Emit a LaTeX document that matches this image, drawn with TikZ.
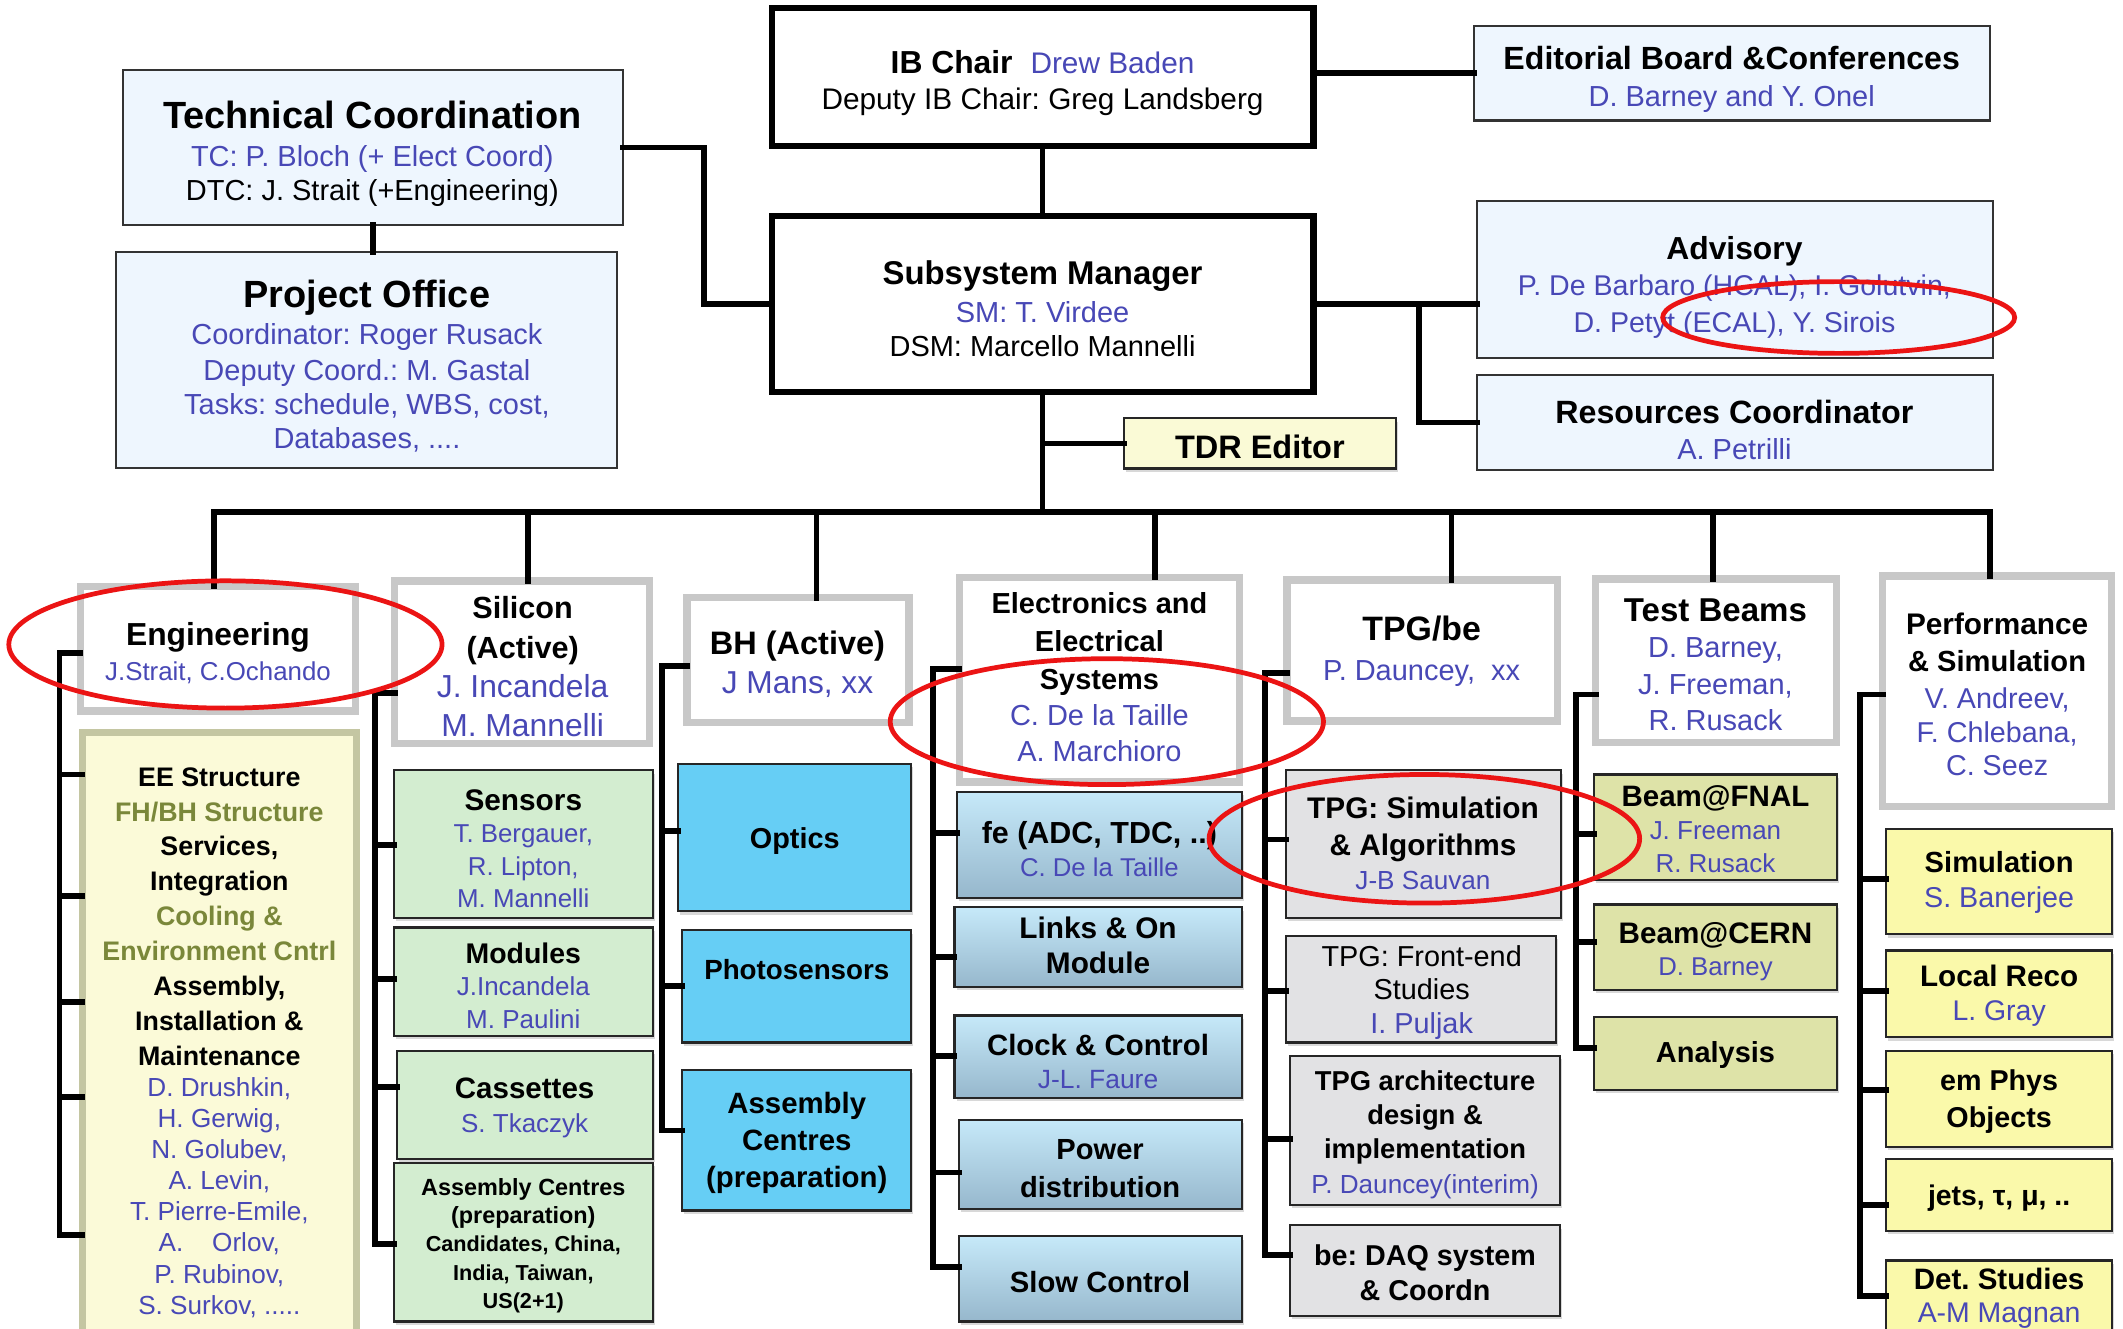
\documentclass[tikz,border=0pt]{standalone}
\usepackage{fontspec}
\setmainfont{Liberation Sans}
\usetikzlibrary{shadows}
\frenchspacing
\definecolor{nblue}{RGB}{72,72,182}
\definecolor{olvtxt}{RGB}{122,135,58}
\definecolor{toplbc}{RGB}{238,246,254}
\definecolor{tdrc}{RGB}{250,250,214}
\definecolor{hdrgray}{RGB}{200,200,200}
\definecolor{eefill}{RGB}{251,250,216}
\definecolor{eeline}{RGB}{196,198,162}
\definecolor{grn}{RGB}{211,237,208}
\definecolor{cyn}{RGB}{102,206,245}
\definecolor{gtop}{RGB}{198,233,249}
\definecolor{gbot}{RGB}{150,183,204}
\definecolor{gry}{RGB}{226,226,228}
\definecolor{olvfill}{RGB}{222,227,168}
\definecolor{ylw}{RGB}{250,249,170}
\definecolor{ringred}{RGB}{235,20,20}
\newcommand\nm[1]{{\color{nblue}#1}}
\newcommand\olv[1]{{\color{olvtxt}#1}}
\newcommand\fsz[2]{\fontsize{#1}{#2}\selectfont}
\newcommand\tck[3]{\coordinate (#1) at #2; \draw[conn] (#1) -- (#1 -| #3.west);}
\begin{document}
\frenchspacing
\begin{tikzpicture}[x=1pt,y=-1pt,
  every node/.style={inner sep=0pt, outer sep=0pt},
  topthick/.style={draw=black, line width=4.8pt, fill=white},
  toplb/.style={draw=black!80, line width=1.5pt, fill=toplbc},
  hdr/.style={draw=hdrgray, line width=5.5pt, fill=white},
  child/.style={draw=black!85, line width=1.6pt, drop shadow={shadow xshift=1.5pt,shadow yshift=-2.5pt,opacity=.3}},
  tdrbox/.style={child, fill=tdrc},
  eebox/.style={draw=eeline, line width=5.5pt, fill=eefill},
  gbox/.style={child, fill=grn},
  cbox/.style={child, fill=cyn},
  ebox/.style={child, top color=gtop, bottom color=gbot},
  tbox/.style={child, fill=gry},
  obox/.style={child, fill=olvfill},
  ybox/.style={child, fill=ylw},
  txt/.style={align=center},
  conn/.style={line width=4.3pt, black, line cap=rect},
  ring/.style={draw=ringred, line width=3.5pt}]
\path[use as bounding box] (0,0) rectangle (1568,981);
\fill[white] (0,0) rectangle (1568,981);
\clip (0,0) rectangle (1568,981);

% ---------- top boxes
\node[topthick, minimum width=400, minimum height=102] (ib) at (770,57) {};
\node[toplb, minimum width=381, minimum height=70] (ed) at (1279.5,54) {};
\node[toplb, minimum width=369, minimum height=114] (tc) at (275.5,109) {};
\node[toplb, minimum width=370, minimum height=160] (po) at (271,266) {};
\node[topthick, minimum width=400, minimum height=130] (sm) at (770,224.5) {};
\node[toplb, minimum width=381, minimum height=116] (adv) at (1281.5,206.5) {};
\node[toplb, minimum width=381, minimum height=70] (res) at (1281.5,312) {};
\node[tdrbox, minimum width=201, minimum height=37] (tdr) at (930.5,327.5) {};

% ---------- headers
\node[hdr, minimum width=203, minimum height=92] (eng) at (161,479) {};
\node[hdr, minimum width=188, minimum height=120] (sil) at (385.5,489) {};
\node[hdr, minimum width=164, minimum height=92] (bh) at (589.5,487.5) {};
\node[hdr, minimum width=207, minimum height=151] (ele) at (812,502) {};
\node[hdr, minimum width=200, minimum height=104] (tpg) at (1050.5,480.5) {};
\node[hdr, minimum width=178, minimum height=121] (tb) at (1267.5,488) {};
\node[hdr, minimum width=169, minimum height=170] (perf) at (1475,510.5) {};

% ---------- children
\node[eebox, minimum width=202.5, minimum height=454] (ee) at (162,768) {};
\node[gbox, minimum width=191, minimum height=109] (sens) at (386.5,623.5) {};
\node[gbox, minimum width=191, minimum height=80] (mod) at (386.5,725) {};
\node[gbox, minimum width=189, minimum height=80] (cas) at (387.5,816) {};
\node[gbox, minimum width=191, minimum height=117] (asc) at (386.5,917.5) {};
\node[cbox, minimum width=172, minimum height=109] (opt) at (587,618.5) {};
\node[cbox, minimum width=169, minimum height=83] (pho) at (588.5,728.5) {};
\node[cbox, minimum width=169, minimum height=104] (abh) at (588.5,842) {};
\node[ebox, minimum width=210, minimum height=78] (fe) at (812,624) {};
\node[ebox, minimum width=212, minimum height=59] (lin) at (811,699.5) {};
\node[ebox, minimum width=212, minimum height=61] (clk) at (811,780.5) {};
\node[ebox, minimum width=209, minimum height=66] (pow) at (812.5,860) {};
\node[ebox, minimum width=209, minimum height=63] (slo) at (812.5,944.5) {};
\node[tbox, minimum width=203, minimum height=109] (tsim) at (1051.5,623.5) {};
\node[tbox, minimum width=199, minimum height=79] (tfe) at (1049.5,730.5) {};
\node[tbox, minimum width=199, minimum height=110] (tarch) at (1052.5,835) {};
\node[tbox, minimum width=199, minimum height=67] (tbe) at (1052.5,938.5) {};
\node[obox, minimum width=180, minimum height=78] (fnal) at (1267,611) {};
\node[obox, minimum width=180, minimum height=63] (cern) at (1267,699.5) {};
\node[obox, minimum width=180, minimum height=54] (ana) at (1267,778) {};
\node[ybox, minimum width=167, minimum height=78] (simu) at (1476.5,651) {};
\node[ybox, minimum width=167, minimum height=64] (lreco) at (1476.5,734) {};
\node[ybox, minimum width=167, minimum height=71] (emph) at (1476.5,811.5) {};
\node[ybox, minimum width=167, minimum height=53] (jets) at (1476.5,882.5) {};
\node[ybox, minimum width=167, minimum height=69] (det) at (1476.5,965.5) {};

% ---------- top connectors
\draw[conn] (ed.west) -- (ed.west -| ib.east);
\draw[conn] (ib.south) -- (sm.north);
\coordinate (j1) at (520,224.5);
\draw[conn] (tc.east) -| (j1) -- (sm.west);
\draw[conn] (tc.south) -- (tc.south |- po.north);
\draw[conn] (sm.east) -- (sm.east -| adv.west);
\coordinate (j2) at (1048,224.5);
\draw[conn] (j2) |- (res.west);
\coordinate (bus0) at (770,378);
\draw[conn] (sm.south) -- (bus0);
\draw[conn] (tdr.west) -- (tdr.west -| bus0);
\coordinate (d1) at (158,378);
\coordinate (d2) at (390,378);
\coordinate (d3) at (603,378);
\coordinate (d4) at (853,378);
\coordinate (d5) at (1072,378);
\coordinate (d6) at (1265,378);
\coordinate (d7) at (1470,378);
\draw[conn] (d1) -- (d7);
\draw[conn] (d1) -- (d1 |- eng.north);
\draw[conn] (d2) -- (d2 |- sil.north);
\draw[conn] (d3) -- (d3 |- bh.north);
\draw[conn] (d4) -- (d4 |- ele.north);
\draw[conn] (d5) -- (d5 |- tpg.north);
\draw[conn] (d6) -- (d6 |- tb.north);
\draw[conn] (d7) -- (d7 |- perf.north);

% ---------- brackets
\tck{e0}{(44,482)}{eng}
\tck{e1}{(44,572)}{ee}
\tck{e2}{(44,662)}{ee}
\tck{e3}{(44,740)}{ee}
\tck{e4}{(44,810)}{ee}
\tck{e5}{(44,912)}{ee}
\draw[conn] (e0) -- (e5);
\tck{s0}{(277,512)}{sil}
\tck{s1}{(277,624)}{sens}
\tck{s2}{(277,723)}{mod}
\tck{s3}{(277,803)}{cas}
\tck{s4}{(277,919)}{asc}
\draw[conn] (s0) -- (s4);
\tck{b0}{(489,492)}{bh}
\tck{b1}{(489,614)}{opt}
\tck{b2}{(489,728)}{pho}
\tck{b3}{(489,835)}{abh}
\draw[conn] (b0) -- (b3);
\tck{l0}{(689,494)}{ele}
\tck{l1}{(689,615)}{fe}
\tck{l2}{(689,707)}{lin}
\tck{l3}{(689,780)}{clk}
\tck{l4}{(689,866)}{pow}
\tck{l5}{(689,936)}{slo}
\draw[conn] (l0) -- (l5);
\tck{t0}{(934,497)}{tpg}
\tck{t1}{(934,620)}{tsim}
\tck{t2}{(934,732)}{tfe}
\tck{t3}{(934,841)}{tarch}
\tck{t4}{(934,927)}{tbe}
\draw[conn] (t0) -- (t4);
\tck{m0}{(1164,513)}{tb}
\tck{m1}{(1164,616)}{fnal}
\tck{m2}{(1164,696)}{cern}
\tck{m3}{(1164,774)}{ana}
\draw[conn] (m0) -- (m3);
\tck{p0}{(1374,513)}{perf}
\tck{p1}{(1374,649)}{simu}
\tck{p2}{(1374,732)}{lreco}
\tck{p3}{(1374,805)}{emph}
\tck{p4}{(1374,890)}{jets}
\tck{p5}{(1374,957)}{det}
\draw[conn] (p0) -- (p5);

% ---------- texts (top)
\node[txt, font=\fsz{22}{27}] (ib-t) at (770,61.5) {{\bfseries\fsz{23.5}{27}IB Chair}\hspace{0.6em}\nm{Drew Baden}\\Deputy IB Chair: Greg Landsberg};
\node[txt, font=\fsz{21.4}{27}] (ed-t) at (1279,58.5) {{\bfseries\fsz{23.7}{27}Editorial Board \&Conferences}\\\nm{D. Barney and Y. Onel}};
\node[txt, font=\fsz{21.4}{25}] (tc-t) at (275,113.5) {{\bfseries\fsz{28}{30}Technical Coordination}\\[3pt]\nm{TC: P. Bloch (+ Elect Coord)}\\DTC: J. Strait (+Engineering)};
\node[txt, font=\fsz{21.4}{25}] (po-t) at (271,270.5) {{\bfseries\fsz{28}{30}Project Office}\\[2.5pt]\nm{Coordinator: Roger Rusack}\\[1.5pt]\nm{Deputy Coord.: M. Gastal}\\\nm{Tasks: schedule, WBS, cost,}\\\nm{Databases, ....}};
\node[txt, font=\fsz{21.4}{25}] (sm-t) at (770,228) {{\bfseries\fsz{24.3}{26}Subsystem Manager}\\[2.5pt]\nm{SM: T. Virdee}\\DSM: Marcello Mannelli};
\node[txt, font=\fsz{21.1}{27}] (adv-t) at (1281,212) {{\bfseries\fsz{23.5}{27}Advisory}\\\nm{P. De Barbaro (HCAL), I. Golutvin,}\\\nm{D. Petyt (ECAL), Y. Sirois}};
\node[txt, font=\fsz{21.4}{27}] (res-t) at (1281,317.5) {{\bfseries\fsz{23.8}{27}Resources Coordinator}\\\nm{A. Petrilli}};
\node[txt, font=\bfseries\fsz{24}{27}] (tdr-t) at (930.5,330) {TDR Editor};

% ---------- texts (headers)
\node[txt, font=\fsz{19.1}{26}] (eng-t) at (161,482.5) {{\bfseries\fsz{23.5}{26}Engineering}\\\nm{J.Strait, C.Ochando}};
\node[txt, font=\fsz{23.5}{29}] (sil-t) at (386,492.5) {{\bfseries\fsz{22.6}{29}Silicon}\\{\bfseries\fsz{22.6}{29}(Active)}\\\nm{J. Incandela}\\\nm{M. Mannelli}};
\node[txt, font=\fsz{23.4}{29}] (bh-t) at (589,490.5) {{\bfseries\fsz{24}{29}BH (Active)}\\\nm{J Mans, xx}};
\node[txt, font=\bfseries\fsz{21.4}{26.5}] (ele-t) at (812,500) {Electronics and\\[1.5pt]Electrical\\[1.5pt]Systems\\\nm{\mdseries C. De la Taille}\\\nm{\mdseries A. Marchioro}};
\node[txt, font=\fsz{21.4}{29}] (tpg-t) at (1050,481) {{\bfseries\fsz{25}{29}TPG/be}\\\nm{P. Dauncey,\ \ xx}};
\node[txt, font=\fsz{21.4}{27}] (tb-t) at (1267,491) {{\bfseries\fsz{24.4}{27}Test Beams}\\\nm{D. Barney,}\\\nm{J. Freeman,}\\\nm{R. Rusack}};
\node[txt, font=\fsz{21.2}{25}] (perf-t) at (1475,513) {{\bfseries\fsz{22}{27}Performance}\\[2pt]{\bfseries\fsz{21.5}{27}\& Simulation}\\[2.5pt]\nm{V. Andreev,}\\\nm{F. Chlebana,}\\\nm{C. Seez}};

% ---------- texts (children)
\node[txt, font=\bfseries\fsz{19.8}{23}] (ee-t) at (162,770) {EE Structure\\[2.75pt]\olv{FH/BH Structure}\\[2.75pt]Services,\\[2.75pt]Integration\\[2.75pt]\olv{Cooling \&}\\[2.75pt]\olv{Environment Cntrl}\\[2.75pt]Assembly,\\[2.75pt]Installation \&\\[2.75pt]Maintenance\\\nm{\mdseries\fsz{19.3}{23}D. Drushkin,}\\\nm{\mdseries\fsz{19.3}{23}H. Gerwig,}\\\nm{\mdseries\fsz{19.3}{23}N. Golubev,}\\\nm{\mdseries\fsz{19.3}{23}A. Levin,}\\\nm{\mdseries\fsz{19.3}{23}T. Pierre-Emile,}\\\nm{\mdseries\fsz{19.3}{23}A.\hspace{1.1em}Orlov,}\\\nm{\mdseries\fsz{19.3}{23}P. Rubinov,}\\\nm{\mdseries\fsz{19.3}{23}S. Surkov, .....}};
\node[txt, font=\fsz{19.1}{24}] (sens-t) at (386.5,627) {{\bfseries\fsz{22}{24}Sensors}\\\nm{T. Bergauer,}\\\nm{R. Lipton,}\\\nm{M. Mannelli}};
\node[txt, font=\fsz{19.2}{24}] (mod-t) at (386.5,728) {{\bfseries\fsz{21}{24}Modules}\\\nm{J.Incandela}\\\nm{M. Paulini}};
\node[txt, font=\fsz{19.2}{25}] (cas-t) at (387.5,818.5) {{\bfseries\fsz{21.8}{25}Cassettes}\\\nm{S. Tkaczyk}};
\node[txt, font=\bfseries\fsz{16}{21}] (asc-t) at (386.5,920) {{\fsz{17.3}{21}Assembly Centres}\\{\fsz{17.3}{21}(preparation)}\\Candidates, China,\\India, Taiwan,\\US(2+1)};
\node[txt, font=\bfseries\fsz{21.3}{25}] (opt-t) at (587,621) {Optics};
\node[txt, font=\bfseries\fsz{20.5}{25}] (pho-t) at (588.5,716) {Photosensors};
\node[txt, font=\bfseries\fsz{21.7}{27.5}] (abh-t) at (588.5,844) {Assembly\\Centres\\(preparation)};
\node[txt, font=\fsz{19}{24}] (fe-t) at (812,627) {{\bfseries\fsz{22.5}{24}fe (ADC, TDC, ..)}\\\nm{C. De la Taille}};
\node[txt, font=\bfseries\fsz{22}{26}] (lin-t) at (811,698) {Links \& On\\Module};
\node[txt, font=\fsz{19.5}{24}] (clk-t) at (811,784) {{\bfseries\fsz{21.7}{24}Clock \& Control}\\\nm{J-L. Faure}};
\node[txt, font=\bfseries\fsz{21.5}{28}] (pow-t) at (812.5,863) {Power\\distribution};
\node[txt, font=\bfseries\fsz{21.6}{25}] (slo-t) at (812.5,947) {Slow Control};
\node[txt, font=\fsz{19.3}{25}] (tsim-t) at (1051,623) {{\bfseries\fsz{22}{25}TPG: Simulation}\\[2pt]{\bfseries\fsz{22}{25}\& Algorithms}\\\nm{J-B Sauvan}};
\node[txt, font=\fsz{21.3}{25}] (tfe-t) at (1050,733) {TPG: Front-end\\Studies\\\nm{I. Puljak}};
\node[txt, font=\bfseries\fsz{20.2}{25.3}] (tarch-t) at (1052.5,838) {TPG architecture\\design \&\\implementation\\\nm{\mdseries\fsz{19.3}{25}P. Dauncey(interim)}};
\node[txt, font=\bfseries\fsz{21.2}{26}] (tbe-t) at (1052.5,940) {be: DAQ system\\\& Coordn};
\node[txt, font=\fsz{19.2}{24.5}] (fnal-t) at (1267,612.5) {{\bfseries\fsz{21.8}{24.5}Beam@FNAL}\\\nm{J. Freeman}\\\nm{R. Rusack}};
\node[txt, font=\fsz{19}{23.5}] (cern-t) at (1267,703) {{\bfseries\fsz{21.9}{23.5}Beam@CERN}\\\nm{D. Barney}};
\node[txt, font=\bfseries\fsz{21.4}{25}] (ana-t) at (1267,779) {Analysis};
\node[txt, font=\fsz{21.2}{26}] (simu-t) at (1476.5,652) {{\bfseries\fsz{21.5}{26}Simulation}\\\nm{S. Banerjee}};
\node[txt, font=\fsz{21}{25}] (lreco-t) at (1476.5,735.5) {{\bfseries\fsz{21.9}{25}Local Reco}\\\nm{L. Gray}};
\node[txt, font=\bfseries\fsz{21.2}{27}] (emph-t) at (1476.5,813.5) {em Phys\\Objects};
\node[txt, font=\bfseries\fsz{21}{25}] (jets-t) at (1476.5,885) {jets, τ, μ, ..};
\node[txt, font=\fsz{21}{24}] (det-t) at (1476.5,959) {{\bfseries\fsz{21.8}{24}Det. Studies}\\\nm{A-M Magnan}};

% ---------- red rings
\draw[ring] (1358,234.5) ellipse [x radius=130, y radius=26.5];
\draw[ring] (166.5,476) ellipse [x radius=160, y radius=47];
\draw[ring] (817.5,533) ellipse [x radius=160, y radius=46.5];
\draw[ring] (1052,619.5) ellipse [x radius=159, y radius=47.5];
\end{tikzpicture}
\end{document}
